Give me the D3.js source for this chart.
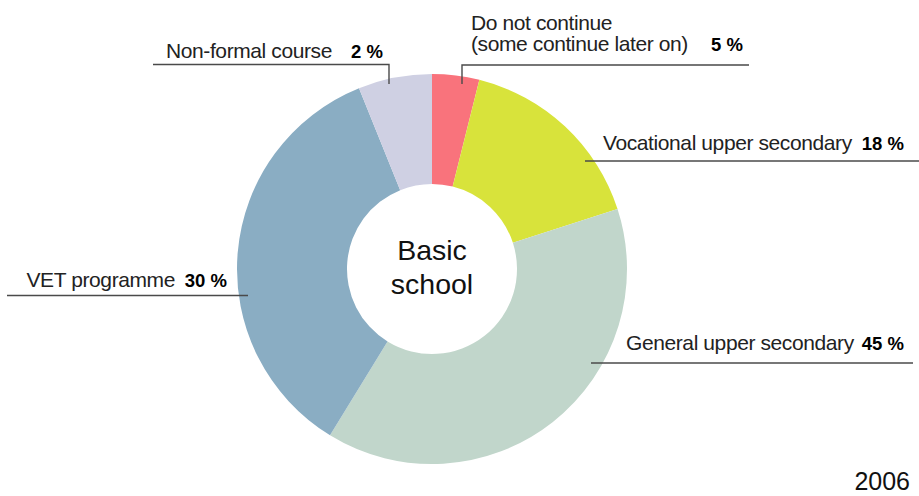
<!DOCTYPE html>
<html>
<head>
<meta charset="utf-8">
<script src="https://cdn.jsdelivr.net/npm/d3@7/dist/d3.min.js"></script>
<style>
  html, body { margin: 0; padding: 0; background: #fff; }
  svg { display: block; font-family: "Liberation Sans", Arial, sans-serif; }
</style>
</head>
<body>
<svg id="chart" width="919" height="496"></svg>
<script>
// ---- data (clockwise from 12 o'clock) ----
const categories = ["Do not continue (some continue later on)", "Vocational upper secondary", "General upper secondary", "VET programme", "Non-formal course"];
const sliceValues = [3.9, 16.1, 38.7, 35.1, 6.1];          // slice sizes as drawn in the picture
const labelPercents = ["5 %", "18 %", "45 %", "30 %", "2 %"]; // percentages printed in the labels
const labelLines = [["Do not continue", "(some continue later on)"], ["Vocational upper secondary"], ["General upper secondary"], ["VET programme"], ["Non-formal course"]];
const centerLines = ["Basic", "school"];
const yearLabel = "2006";

// ---- styles / layout ----
const colors = ["#f9737c", "#d8e33b", "#c1d6cb", "#8aadc3", "#cfd0e3"];
const cx = 432, cy = 269, outerR = 195, innerR = 85;

// annotation layout (label text position, percent end x, leader polyline)
const labelLayout = [
  { x: 471, y: [29.5, 50.5], pctX: 743, pctY: 50.5, line: [[462, 84], [462, 65], [749, 65]] },
  { x: 603, y: [149.5], pctX: 904, pctY: 149.5, line: [[585, 161], [919, 161]] },
  { x: 626, y: [350], pctX: 904, pctY: 350, line: [[591, 363], [913, 363]] },
  { x: 26.5, y: [287], pctX: 227, pctY: 287, line: [[7, 295.5], [248, 295.5]] },
  { x: 166, y: [58], pctX: 383, pctY: 58, line: [[153, 64.5], [389, 64.5], [389, 84]] }
];

const svg = d3.select("#chart");

const pie = d3.pie().sort(null).value(d => d).startAngle(0).endAngle(2 * Math.PI);
const arc = d3.arc().innerRadius(innerR).outerRadius(outerR);

const g = svg.append("g").attr("transform", `translate(${cx},${cy})`);
g.selectAll("path.slice")
  .data(pie(sliceValues))
  .join("path")
  .attr("class", "slice")
  .attr("d", arc)
  .attr("fill", (d, i) => colors[i]);

// center text
const ct = g.append("text")
  .attr("text-anchor", "middle")
  .attr("font-size", 28.5)
  .attr("fill", "#111");
centerLines.forEach((t, i) => {
  ct.append("tspan").attr("x", 0).attr("y", -9 + i * 34).text(t);
});

// labels & leader lines
const lineGen = d3.line();
labelLayout.forEach((L, i) => {
  svg.append("path")
    .attr("d", lineGen(L.line))
    .attr("fill", "none")
    .attr("stroke", "#4a4a4a")
    .attr("stroke-width", 1.4);
  labelLines[i].forEach((t, j) => {
    svg.append("text")
      .attr("x", L.x).attr("y", L.y[j])
      .attr("font-size", 21)
      .attr("letter-spacing", -0.4)
      .attr("fill", "#222")
      .text(t);
  });
  svg.append("text")
    .attr("x", L.pctX).attr("y", L.pctY)
    .attr("text-anchor", "end")
    .attr("font-size", 18.5)
    .attr("font-weight", "bold")
    .attr("fill", "#000")
    .text(labelPercents[i]);
});

// year
svg.append("text")
  .attr("x", 910).attr("y", 490)
  .attr("text-anchor", "end")
  .attr("font-size", 25)
  .attr("fill", "#111")
  .text(yearLabel);
</script>
</body>
</html>
